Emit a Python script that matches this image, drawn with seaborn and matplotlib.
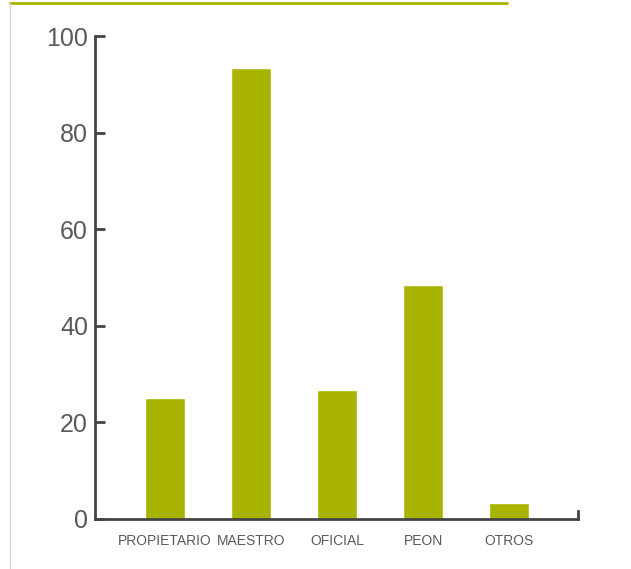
import matplotlib
matplotlib.use("Agg")
import matplotlib.pyplot as plt
import seaborn as sns
import pandas as pd
from matplotlib.lines import Line2D

categories = ["PROPIETARIO", "MAESTRO", "OFICIAL", "PEON", "OTROS"]
values = [25.0, 93.4, 26.7, 48.4, 3.3]
y_ticks = [0, 20, 40, 60, 80, 100]

sns.set_theme(style="white")
plt.rcParams["font.family"] = ["Liberation Sans", "DejaVu Sans"]

green = "#a9b400"
axis_col = "#444444"
text_col = "#5a5a5a"

df = pd.DataFrame({"cat": categories, "val": values})

fig = plt.figure(figsize=(6.31, 5.69), dpi=100)
ax = fig.add_axes([95 / 631, 1 - 519 / 569, (578 - 95) / 631, (519 - 36) / 569])

sns.barplot(data=df, x="cat", y="val", color=green, saturation=1, width=0.465, ax=ax)

ax.set_xlim(-0.814, 4.80)
ax.set_ylim(0, 100)
ax.set_yticks(y_ticks)
ax.set_xlabel("")
ax.set_ylabel("")

ax.spines["top"].set_visible(False)
for s in ["left", "bottom", "right"]:
    ax.spines[s].set_color(axis_col)
    ax.spines[s].set_linewidth(2)
ax.spines["right"].set_bounds(0, 1.7)

ax.tick_params(axis="y", direction="in", length=7, width=2, color=axis_col,
               labelsize=18, labelcolor=text_col, pad=5, left=True)
ax.tick_params(axis="x", length=0, labelsize=10, labelcolor=text_col, pad=11)

# page decorations: top rule and left margin line
fig.add_artist(Line2D([10 / 631, 507 / 631], [1 - 3 / 569, 1 - 3 / 569],
                      color=green, linewidth=2, transform=fig.transFigure))
fig.add_artist(Line2D([10 / 631, 10 / 631], [0, 1 - 4 / 569],
                      color="#d8d8d8", linewidth=1, transform=fig.transFigure))

fig.savefig("out.png", dpi=100)
